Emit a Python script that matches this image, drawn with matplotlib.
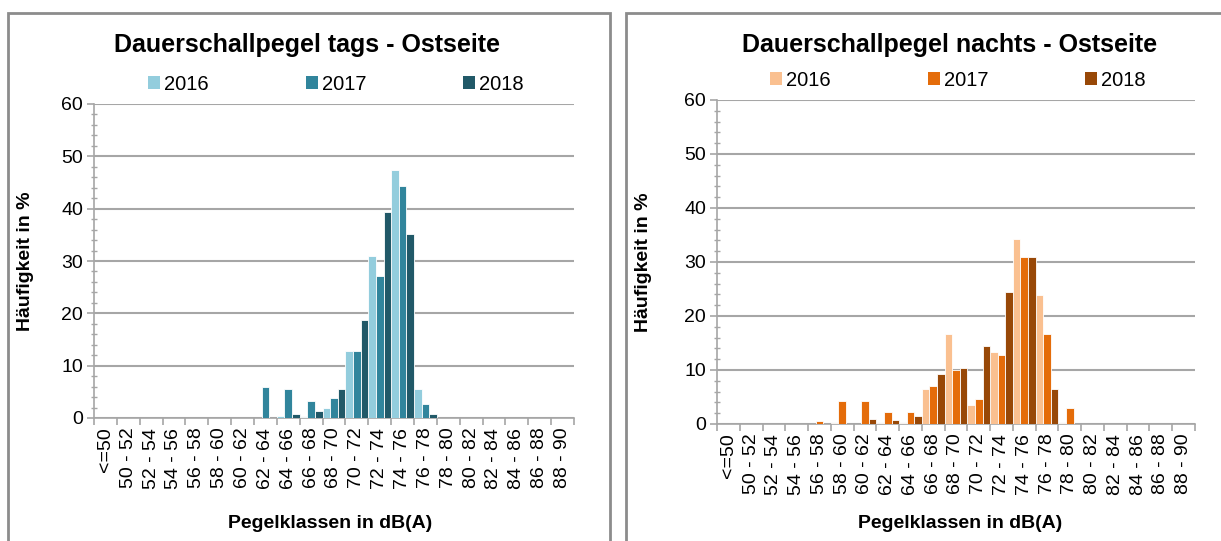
import numpy as np
import matplotlib.pyplot as plt
from matplotlib.patches import Patch, Rectangle

plt.rcParams['font.family'] = ['Liberation Sans', 'DejaVu Sans']

W, H = 1221, 541

klassen = ["<=50", "50 - 52", "52 - 54", "54 - 56", "56 - 58", "58 - 60", "60 - 62",
           "62 - 64", "64 - 66", "66 - 68", "68 - 70", "70 - 72", "72 - 74", "74 - 76",
           "76 - 78", "78 - 80", "80 - 82", "82 - 84", "84 - 86", "86 - 88", "88 - 90"]
jahre = ["2016", "2017", "2018"]

# Haeufigkeit in %, tags
tags_2016 = [0, 0, 0, 0, 0, 0, 0, 0, 0.3, 0.2, 2.0, 12.8, 30.9, 47.3, 5.6, 0, 0, 0, 0, 0, 0]
tags_2017 = [0, 0, 0, 0, 0, 0, 0, 5.9, 5.6, 3.3, 3.9, 12.8, 27.2, 44.3, 2.6, 0, 0, 0, 0, 0, 0]
tags_2018 = [0, 0, 0, 0, 0, 0, 0, 0, 0.8, 1.3, 5.6, 18.7, 39.4, 35.2, 0.8, 0, 0, 0, 0, 0, 0]

# Haeufigkeit in %, nachts
nachts_2016 = [0, 0, 0, 0, 0, 0.2, 0, 0.2, 0.2, 6.4, 16.7, 3.5, 13.3, 34.3, 23.8, 0.2, 0, 0, 0, 0, 0]
nachts_2017 = [0, 0, 0, 0, 0.5, 4.3, 4.3, 2.2, 2.3, 7.0, 10.0, 4.7, 12.7, 31.0, 16.6, 3.0, 0, 0, 0, 0, 0]
nachts_2018 = [0, 0, 0, 0, 0, 0, 0.9, 0.7, 1.5, 9.2, 10.4, 14.4, 24.4, 31.0, 6.4, 0, 0, 0, 0, 0, 0]

farben_tags = ["#93CDDD", "#31859C", "#215968"]
farben_nachts = ["#FAC090", "#E46C0A", "#984807"]

grau = "#A6A6A6"


def px_axes(fig, x0, x1, y0, y1):
    return fig.add_axes([x0 / W, 1 - y1 / H, (x1 - x0) / W, (y1 - y0) / H])


def draw_panel(ax, serien, farben):
    x = np.arange(len(klassen))
    w = 1 / 3
    for i, (werte, farbe) in enumerate(zip(serien, farben)):
        ax.bar(x + (i - 1) * w, werte, width=w, color=farbe, edgecolor="white",
               linewidth=0.6, zorder=3)
    ax.set_xlim(-0.5, len(klassen) - 0.5)
    ax.set_ylim(0, 60)
    ax.set_yticks(range(0, 61, 10))
    ax.set_yticks(range(0, 61, 2), minor=True)
    ax.yaxis.grid(True, color=grau, lw=1.5, zorder=0)
    ax.set_xticks(x)
    ax.set_xticklabels(klassen, rotation=90)
    ax.set_xticks(np.arange(-0.5, len(klassen)), minor=True)
    ax.tick_params(axis="x", which="major", length=0, pad=7, labelsize=14)
    ax.tick_params(axis="x", which="minor", length=5, width=1.2, color=grau)
    ax.tick_params(axis="y", which="major", length=5, width=1.2, color=grau, labelsize=14, pad=3)
    ax.tick_params(axis="y", which="minor", length=5, width=1, color=grau, direction="inout")
    for s in ["top", "right"]:
        ax.spines[s].set_visible(False)
    for s in ["left", "bottom"]:
        ax.spines[s].set_color(grau)
        ax.spines[s].set_linewidth(1.2)


fig = plt.figure(figsize=(W / 100, H / 100), dpi=100)

# Rahmen der beiden Diagramme
fig.add_artist(Rectangle((8 / W, 1 - 560 / H), 602 / W, 547 / H, transform=fig.transFigure,
                         fill=False, edgecolor="#8C8C8C", lw=2))
fig.add_artist(Rectangle((626 / W, 1 - 560 / H), 640 / W, 547 / H, transform=fig.transFigure,
                         fill=False, edgecolor="#8C8C8C", lw=2))

ax1 = px_axes(fig, 94, 574, 104, 418)
draw_panel(ax1, [tags_2016, tags_2017, tags_2018], farben_tags)
ax2 = px_axes(fig, 717, 1195, 100, 424)
draw_panel(ax2, [nachts_2016, nachts_2017, nachts_2018], farben_nachts)

panels = [
    ("Dauerschallpegel tags - Ostseite", 307, farben_tags, 336, 84, 25, 261, 330),
    ("Dauerschallpegel nachts - Ostseite", 950, farben_nachts, 958, 80, 643, 262, 960),
]
for titel, tx, farben, lx, ly, yx, yy, xx in panels:
    fig.text(tx / W, 1 - 45 / H, titel, ha="center", va="center", fontsize=18, fontweight="bold")
    handles = [Patch(facecolor=f, edgecolor="none") for f in farben]
    fig.legend(handles, jahre, loc="center", bbox_to_anchor=(lx / W, 1 - ly / H), ncol=3,
               frameon=False, fontsize=14.5, handlelength=0.6, handleheight=0.6,
               handletextpad=0.2, columnspacing=4.8, borderaxespad=0)
    fig.text(yx / W, 1 - yy / H, "Häufigkeit in %", rotation=90, ha="center", va="center",
             fontsize=14, fontweight="bold")
    fig.text(xx / W, 1 - 523 / H, "Pegelklassen in dB(A)", ha="center", va="center",
             fontsize=14, fontweight="bold")

fig.savefig("out.png", dpi=100)
